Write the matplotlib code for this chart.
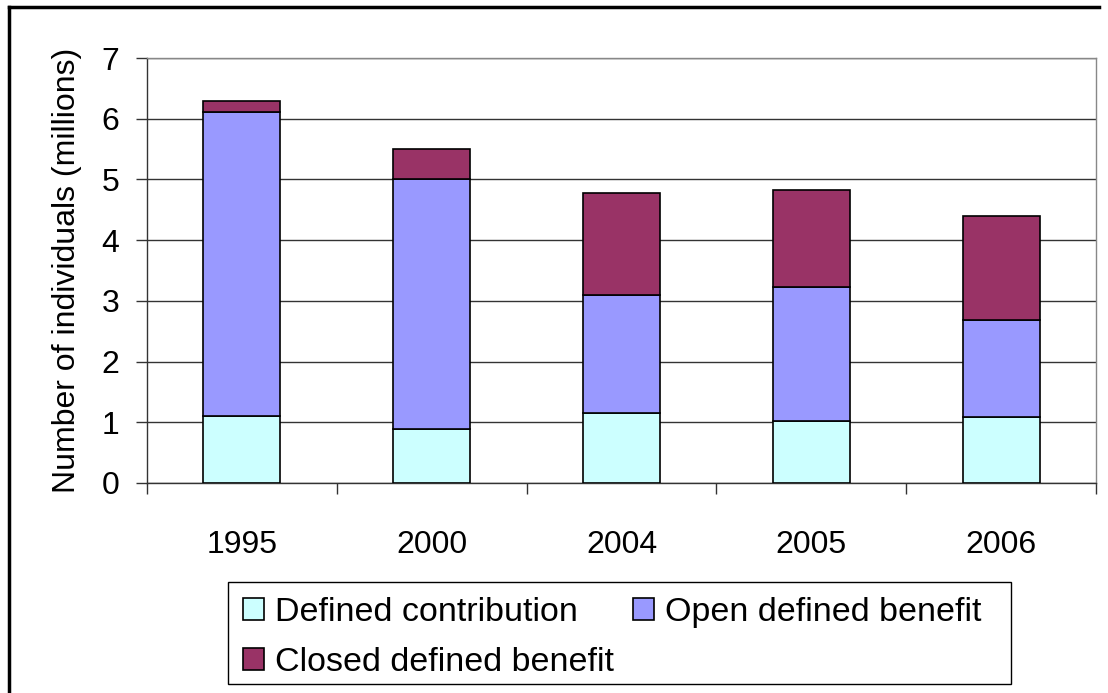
"""
Stacked bar chart: number of individuals in pension schemes by type (millions).
"""

import matplotlib
matplotlib.use("Agg")
import matplotlib.pyplot as plt
from matplotlib.lines import Line2D
from matplotlib.patches import Rectangle
from matplotlib.ticker import FixedLocator

years = ["1995", "2000", "2004", "2005", "2006"]
defined_contribution = [1.10, 0.89, 1.16, 1.02, 1.09]
open_defined_benefit = [5.01, 4.12, 1.93, 2.21, 1.60]
closed_defined_benefit = [0.18, 0.49, 1.69, 1.60, 1.70]

series_names = ["Defined contribution", "Open defined benefit", "Closed defined benefit"]
y_ticks = [0, 1, 2, 3, 4, 5, 6, 7]

DC_COLOR = "#CCFFFF"
OPEN_COLOR = "#9999FF"
CLOSED_COLOR = "#993366"
GRID = "#333333"

W, H = 1108, 693

plt.rcParams["font.family"] = ["Liberation Sans", "DejaVu Sans"]

fig = plt.figure(figsize=(W / 100, H / 100), dpi=100)
ax = fig.add_axes([147 / W, 1 - 483 / H, (1096 - 147) / W, (483 - 58) / H])

x = list(range(len(years)))
width = 0.405
bottom_open = defined_contribution
bottom_closed = [a + b for a, b in zip(defined_contribution, open_defined_benefit)]

bars_dc = ax.bar(x, defined_contribution, width, color=DC_COLOR, edgecolor="black",
                 linewidth=1.2, zorder=3, label=series_names[0])
bars_open = ax.bar(x, open_defined_benefit, width, bottom=bottom_open, color=OPEN_COLOR,
                   edgecolor="black", linewidth=1.2, zorder=3, label=series_names[1])
bars_closed = ax.bar(x, closed_defined_benefit, width, bottom=bottom_closed, color=CLOSED_COLOR,
                     edgecolor="black", linewidth=1.2, zorder=3, label=series_names[2])

ax.set_xlim(-0.5, len(years) - 0.5)
ax.set_ylim(0, 7)
ax.set_yticks(y_ticks)
ax.yaxis.grid(True, color=GRID, linewidth=1.0, zorder=0)
ax.set_axisbelow(True)

ax.set_xticks(x)
ax.set_xticklabels(years)
ax.xaxis.set_minor_locator(FixedLocator([i - 0.5 for i in range(len(years) + 1)]))
ax.tick_params(axis="x", which="major", length=0, pad=34, labelsize=23)
ax.tick_params(axis="x", which="minor", length=8, width=1.0, color=GRID, direction="out")
ax.tick_params(axis="y", length=8, width=1.0, color=GRID, direction="out", pad=12, labelsize=23)

for side in ["left", "bottom"]:
    ax.spines[side].set_color(GRID)
    ax.spines[side].set_linewidth(1.0)
for side in ["top", "right"]:
    ax.spines[side].set_color("#888888")
    ax.spines[side].set_linewidth(1.0)

ax.set_ylabel("Number of individuals (millions)", fontsize=23, labelpad=14)

# legenda rij voor rij: volgorde aanpassen omdat matplotlib kolomsgewijs vult
handles = [bars_dc, bars_closed, bars_open]
labels = [series_names[0], series_names[2], series_names[1]]
leg = fig.legend(handles, labels, loc="upper left", bbox_to_anchor=(228 / W, 1 - 582 / H),
                 ncol=2, fontsize=24.5, frameon=False,
                 handlelength=0.62, handleheight=0.62, handletextpad=0.32, columnspacing=0.56,
                 labelspacing=0.55, borderpad=0.45, borderaxespad=0)

# legendakader los getekend: rechts is er meer ruimte dan links
fig.add_artist(Rectangle((228 / W, 1 - 684 / H), (1011 - 228) / W, (684 - 582) / H,
                         transform=fig.transFigure, facecolor="none", edgecolor="black",
                         linewidth=1.0))

# kader rond de hele afbeelding (alleen links en boven zichtbaar)
fig.add_artist(Line2D([9 / W, 9 / W], [0, 1 - 7 / H], color="black",
                      linewidth=2.5, transform=fig.transFigure))
fig.add_artist(Line2D([9 / W, 1099 / W], [1 - 7 / H, 1 - 7 / H], color="black",
                      linewidth=2.5, transform=fig.transFigure))

fig.savefig("out.png", dpi=100, facecolor="white")
